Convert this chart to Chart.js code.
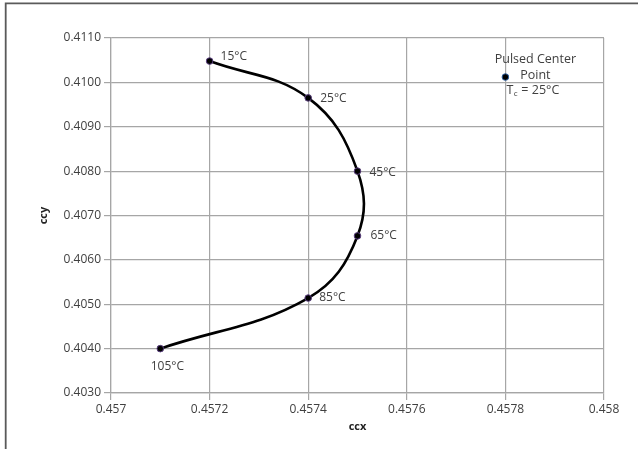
<!DOCTYPE html>
<html>
<head>
<meta charset="utf-8">
<script src="https://cdn.jsdelivr.net/npm/chart.js@4"></script>
<style>
  html, body { margin: 0; padding: 0; background: #fff; }
  #wrap { width: 638px; height: 449px; position: relative; }
</style>
</head>
<body>
<div id="wrap"><canvas id="c" width="638" height="449"></canvas></div>
<script>
// ---- data ----
const temps = ['15°C', '25°C', '45°C', '65°C', '85°C', '105°C'];
const ccxValues = [0.4572, 0.4574, 0.4575, 0.4575, 0.4574, 0.4571];
const ccyValues = [0.41048, 0.40965, 0.4080, 0.40654, 0.40514, 0.4040];
const centerX = [0.4578];
const centerY = [0.41012];
const xTicks = [0.457, 0.4572, 0.4574, 0.4576, 0.4578, 0.458];
const yTicks = [0.4030, 0.4040, 0.4050, 0.4060, 0.4070, 0.4080, 0.4090, 0.4100, 0.4110];

// ---- label placement (style) ----
const labelPlace = [
  { dx: 11, dy: -4, align: 'left' },
  { dx: 12, dy: 1, align: 'left' },
  { dx: 12, dy: 1, align: 'left' },
  { dx: 13, dy: 0, align: 'left' },
  { dx: 11, dy: 0, align: 'left' },
  { dx: 7, dy: 18, align: 'center' }
];

const FONT = '"Open Sans", "DejaVu Sans", sans-serif';
const TXT = '#404040';
const GRID = '#a6a6a6';

const curvePts = ccxValues.map((x, i) => ({ x: x, y: ccyValues[i] }));
const centerPts = centerX.map((x, i) => ({ x: x, y: centerY[i] }));

const framePlugin = {
  id: 'frame',
  beforeDraw(chart) {
    const ctx = chart.ctx;
    ctx.save();
    ctx.fillStyle = '#fff';
    ctx.fillRect(0, 0, chart.width, chart.height);
    ctx.strokeStyle = '#5a5a5a';
    ctx.lineWidth = 1.8;
    ctx.beginPath();
    ctx.moveTo(5.7, chart.height + 2);
    ctx.lineTo(5.7, 3.4);
    ctx.lineTo(chart.width + 2, 3.4);
    ctx.stroke();
    ctx.restore();
  }
};

const labelPlugin = {
  id: 'labels',
  afterDatasetsDraw(chart) {
    const ctx = chart.ctx;
    ctx.save();
    ctx.fillStyle = TXT;
    ctx.font = '12px ' + FONT;
    ctx.textBaseline = 'middle';
    const meta = chart.getDatasetMeta(0);
    meta.data.forEach((pt, i) => {
      const p = labelPlace[i];
      ctx.textAlign = p.align;
      ctx.fillText(temps[i], pt.x + p.dx, pt.y + p.dy);
    });
    // center point label
    const c = chart.getDatasetMeta(1).data[0];
    ctx.font = '12.5px ' + FONT;
    ctx.textAlign = 'center';
    ctx.fillText('Pulsed Center', c.x + 30, c.y - 18);
    ctx.fillText('Point', c.x + 30, c.y - 2);
    ctx.textAlign = 'left';
    let x0 = c.x + 1;
    const yy = c.y + 13;
    ctx.fillText('T', x0, yy);
    x0 += ctx.measureText('T').width;
    ctx.font = '8px ' + FONT;
    ctx.fillText('c', x0 + 0.5, yy + 4);
    x0 += ctx.measureText('c').width + 1;
    ctx.font = '12.5px ' + FONT;
    ctx.fillText(' = 25°C', x0, yy);
    ctx.restore();
  }
};

new Chart(document.getElementById('c'), {
  type: 'scatter',
  data: {
    datasets: [
      {
        data: curvePts,
        showLine: true,
        tension: 0.4,
        borderColor: '#000',
        borderWidth: 2.6,
        pointRadius: 3.3,
        pointBackgroundColor: '#000',
        pointBorderColor: '#5b3f80',
        pointBorderWidth: 1
      },
      {
        data: centerPts,
        showLine: false,
        pointRadius: 3.3,
        pointBackgroundColor: '#000',
        pointBorderColor: '#2f5f9e',
        pointBorderWidth: 1
      }
    ]
  },
  options: {
    responsive: false,
    animation: false,
    devicePixelRatio: 1,
    layout: { padding: { left: 33, right: 34, top: 38, bottom: 12 } },
    plugins: { legend: { display: false }, tooltip: { enabled: false } },
    scales: {
      x: {
        type: 'linear',
        min: 0.457, max: 0.458,
        afterBuildTicks(s) { s.ticks = xTicks.map(v => ({ value: v })); },
        afterFit(s) { s.height = 44; },
        ticks: {
          color: TXT, font: { family: FONT, size: 12 }, padding: 2, maxRotation: 0,
          callback: v => String(Number(v.toFixed(4)))
        },
        grid: { color: GRID, lineWidth: 1.2, tickLength: 7, tickColor: GRID },
        border: { color: GRID, width: 1.2 },
        title: { display: true, text: 'ccx', color: '#222', font: { family: FONT, size: 11, weight: 'bold' }, padding: { top: 2, bottom: 4 } }
      },
      y: {
        type: 'linear',
        min: 0.4030, max: 0.4110,
        afterBuildTicks(s) { s.ticks = yTicks.map(v => ({ value: v })); },
        afterFit(s) { s.width = 78; },
        ticks: {
          color: TXT, font: { family: FONT, size: 12 }, padding: 3,
          callback: v => v.toFixed(4)
        },
        grid: { color: GRID, lineWidth: 1.2, tickLength: 7, tickColor: GRID },
        border: { color: GRID, width: 1.2 },
        title: { display: true, text: 'ccy', color: '#222', font: { family: FONT, size: 11, weight: 'bold' }, padding: { top: 4, bottom: 2 } }
      }
    }
  },
  plugins: [framePlugin, labelPlugin]
});
</script>
</body>
</html>
